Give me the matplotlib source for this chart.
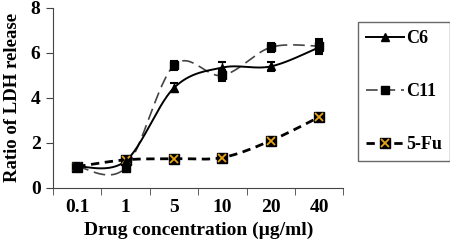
import numpy as np
import matplotlib.pyplot as plt
from matplotlib.lines import Line2D

plt.rcParams['font.family'] = ['Liberation Serif', 'DejaVu Serif']
plt.rcParams['font.weight'] = 'bold'

concentrations = ["0.1", "1", "5", "10", "20", "40"]
c6 = [0.95, 1.2, 4.45, 5.35, 5.4, 6.25]
c6_err = [0.05, 0.05, 0.2, 0.25, 0.2, 0.3]
c11 = [0.95, 0.9, 5.45, 5.0, 6.25, 6.3]
c11_err = [0.05, 0.05, 0.2, 0.25, 0.2, 0.3]
fu = [0.95, 1.25, 1.3, 1.35, 2.1, 3.15]


def smooth(x, y, n=30):
    # Excel-style smoothed line (Catmull-Rom as cubic Bezier)
    x = np.asarray(x, float)
    y = np.asarray(y, float)
    px = np.concatenate([[x[0]], x, [x[-1]]])
    py = np.concatenate([[y[0]], y, [y[-1]]])
    xs, ys = [], []
    t = np.linspace(0, 1, n)
    for i in range(1, len(px) - 2):
        p0 = np.array([px[i], py[i]])
        p3 = np.array([px[i + 1], py[i + 1]])
        p1 = p0 + (np.array([px[i + 1], py[i + 1]]) - np.array([px[i - 1], py[i - 1]])) / 6
        p2 = p3 - (np.array([px[i + 2], py[i + 2]]) - np.array([px[i], py[i]])) / 6
        b = ((1 - t) ** 3)[:, None] * p0 + (3 * (1 - t) ** 2 * t)[:, None] * p1 \
            + (3 * (1 - t) * t ** 2)[:, None] * p2 + (t ** 3)[:, None] * p3
        xs.extend(b[:, 0])
        ys.extend(b[:, 1])
    return xs, ys


fig = plt.figure(figsize=(4.5, 2.4), dpi=100)
ax = fig.add_axes([0.118, 0.217, 0.645, 0.75])

x = np.arange(len(concentrations))
orange = '#E8A317'

sx, sy = smooth(x, c11)
ax.plot(sx, sy, color="#444444", lw=1.2, dashes=(7, 3.5))
ax.errorbar(x, c11, yerr=c11_err, fmt='s', color='black', ms=6, capsize=3, elinewidth=1, capthick=1.5)

sx, sy = smooth(x, c6)
ax.plot(sx, sy, color="black", lw=1.4)
ax.errorbar(x, c6, yerr=c6_err, fmt='^', color='black', ms=6, capsize=3, elinewidth=1, capthick=1.5)

sx, sy = smooth(x, fu)
ax.plot(sx, sy, color="black", lw=2, dashes=(3, 2))
ax.plot(x, fu, 's', color='black', ms=7)
ax.plot(x, fu, 'x', color=orange, ms=6, mew=1.3)

ax.set_xlim(-0.5, 5.5)
ax.set_ylim(0, 8)
ax.set_yticks([0, 2, 4, 6, 8])
ax.set_xticks(x)
ax.set_xticklabels(concentrations)
ax.set_xticks(np.arange(-0.5, 5.6, 1), minor=True)
ax.tick_params(axis='x', which='major', length=0, pad=8, labelsize=14)
ax.tick_params(axis='x', which='minor', length=5, direction='out', color='#444444')
ax.tick_params(axis='y', length=5, labelsize=14, color='#444444', pad=4)
for s in ['top', 'right']:
    ax.spines[s].set_visible(False)
for s in ['left', 'bottom']:
    ax.spines[s].set_color('#444444')

ax.set_xlabel("Drug concentration (\u00b5g/ml)", fontsize=14, fontweight='bold', labelpad=4)
ax.set_ylabel("Ratio of LDH release", fontsize=13.5, fontweight='bold', labelpad=7)

handles = [
    Line2D([], [], color='black', lw=1.4, marker='^', ms=6),
    Line2D([], [], color='#444444', lw=1.2, dashes=(7, 3.5), marker='s', ms=6, markerfacecolor='black',
           markeredgecolor='black'),
    (Line2D([], [], color='black', lw=2, dashes=(3, 2), marker='s', ms=7),
     Line2D([], [], ls='none', marker='x', color=orange, ms=6, mew=1.3)),
]
leg = fig.legend(handles, ["C6", "C11", "5-Fu"], loc='upper left',
                 bbox_to_anchor=(358 / 450, 1 - 22 / 240), borderaxespad=0,
                 frameon=True, fancybox=False, edgecolor='#444444', fontsize=13,
                 labelspacing=2.0, handlelength=2.1, borderpad=0.45,
                 handletextpad=0.1)
leg.get_frame().set_linewidth(1)

fig.savefig("out.png", dpi=100)
